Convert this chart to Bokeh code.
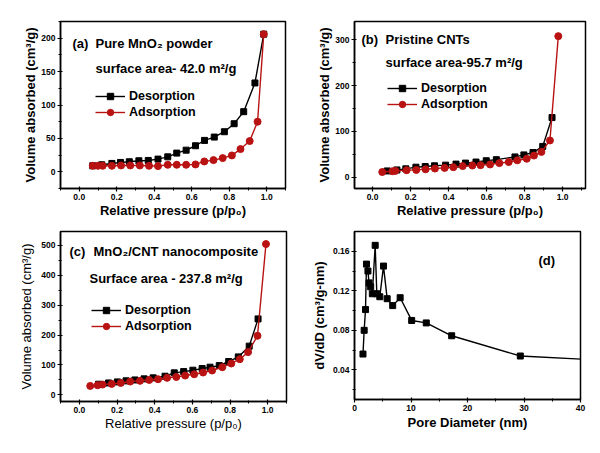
from bokeh.plotting import figure
from bokeh.layouts import gridplot
from bokeh.models import FixedTicker, PrintfTickFormatter, Label, Legend, LegendItem, Range1d
from bokeh.embed import file_html
from bokeh.resources import INLINE

FONT = "Liberation Sans"
RED = "#B91212"

# ---------------- data ----------------
# (a) Pure MnO2 powder
a_des_x = [0.072, 0.12, 0.174, 0.22, 0.267, 0.318, 0.368, 0.42, 0.472, 0.52, 0.57, 0.62, 0.668, 0.72, 0.774, 0.826, 0.877, 0.937, 0.984]
a_des_y = [9, 10.5, 12.5, 14, 15, 16.5, 17, 19, 22.4, 28, 32.4, 39, 47, 52, 60, 72, 90, 133, 206]
a_ads_x = [0.072, 0.1, 0.125, 0.174, 0.223, 0.272, 0.323, 0.372, 0.42, 0.472, 0.52, 0.57, 0.62, 0.667, 0.716, 0.765, 0.814, 0.86, 0.909, 0.951, 0.984]
a_ads_y = [9, 9, 9, 9, 9.5, 9.5, 9.5, 9, 8.5, 10.5, 10.5, 10.5, 11, 15.5, 17.5, 20.5, 24.5, 34, 46, 75, 206]

# (b) Pristine CNTs
b_des_x = [0.077, 0.128, 0.175, 0.228, 0.277, 0.326, 0.384, 0.439, 0.489, 0.544, 0.598, 0.651, 0.749, 0.796, 0.844, 0.895, 0.944]
b_des_y = [13.4, 15.6, 18, 21.6, 23, 24.6, 26, 28.3, 30.5, 32.8, 35.7, 38, 44, 48.4, 53.6, 67, 130]
b_ads_x = [0.051, 0.104, 0.12, 0.179, 0.23, 0.279, 0.328, 0.379, 0.425, 0.474, 0.525, 0.568, 0.618, 0.667, 0.716, 0.761, 0.811, 0.849, 0.888, 0.933, 0.977]
b_ads_y = [11, 12.7, 13.5, 15, 15.6, 17, 18.6, 20, 21.6, 24, 25.3, 26, 27.5, 30.5, 32.8, 36.5, 40, 47, 55, 80, 308]

# (c) MnO2/CNT nanocomposite
c_des_x = [0.102, 0.155, 0.202, 0.248, 0.295, 0.344, 0.392, 0.455, 0.504, 0.554, 0.603, 0.652, 0.694, 0.743, 0.793, 0.844, 0.902, 0.949]
c_des_y = [35.7, 40, 43.5, 47, 50, 53.6, 57, 62.5, 73.7, 78, 82.6, 88, 92.6, 98, 111.6, 127, 163, 254]
c_ads_x = [0.058, 0.097, 0.123, 0.172, 0.22, 0.27, 0.322, 0.371, 0.418, 0.466, 0.515, 0.562, 0.61, 0.657, 0.705, 0.759, 0.807, 0.852, 0.896, 0.946, 0.991]
c_ads_y = [30, 32.4, 34.6, 36.8, 40, 44.6, 47, 50, 52.5, 57, 60, 64.7, 69, 74.8, 81.5, 92.6, 105, 119.4, 143, 197.5, 504]

# (d) pore size distribution
d_x = [1.5, 1.71, 1.95, 2.12, 2.38, 2.57, 2.86, 3.16, 3.66, 3.95, 4.48, 5.13, 5.78, 6.76, 8.08, 10.12, 12.7, 17.2, 29.35, 48]
d_y = [0.056, 0.080, 0.101, 0.147, 0.140, 0.128, 0.124, 0.117, 0.166, 0.117, 0.114, 0.145, 0.112, 0.105, 0.113, 0.090, 0.0875, 0.0745, 0.054, 0.0485]

p_ticks = [0.0, 0.2, 0.4, 0.6, 0.8, 1.0]
p_minor = [-0.1, 0.1, 0.3, 0.5, 0.7, 0.9, 1.1]


def make_fig(fw, fh, bl, br, bt, bb, xr, yr, xt, xm, yt, ym, xlab, ylab, xfmt, yfmt,
             lab_style="bold", xstand=3, ystand=2):
    p = figure(frame_width=fw, frame_height=fh, output_backend="svg", toolbar_location=None,
               x_range=Range1d(*xr), y_range=Range1d(*yr),
               min_border_left=bl, min_border_right=br, min_border_top=bt, min_border_bottom=bb)
    p.grid.visible = False
    p.outline_line_color = "black"
    p.outline_line_width = 1.5
    p.background_fill_color = "white"
    p.border_fill_color = "white"
    p.xaxis.ticker = FixedTicker(ticks=xt, minor_ticks=xm)
    p.yaxis.ticker = FixedTicker(ticks=yt, minor_ticks=ym)
    p.xaxis.formatter = PrintfTickFormatter(format=xfmt)
    p.yaxis.formatter = PrintfTickFormatter(format=yfmt)
    p.xaxis.axis_label = xlab
    p.yaxis.axis_label = ylab
    for ax in (p.xaxis[0], p.yaxis[0]):
        ax.axis_line_width = 1.5
        ax.axis_line_color = "black"
        ax.major_tick_line_color = "black"
        ax.minor_tick_line_color = "black"
        ax.major_tick_line_width = 1.2
        ax.minor_tick_line_width = 1
        ax.major_tick_in = 2
        ax.major_tick_out = 3
        ax.minor_tick_in = 1
        ax.minor_tick_out = 2
        ax.major_label_text_font = FONT
        ax.major_label_text_font_style = "bold"
        ax.major_label_text_font_size = "8.5px"
        ax.major_label_text_color = "black"
        ax.major_label_standoff = 2
        ax.axis_label_text_font = FONT
        ax.axis_label_text_font_style = lab_style
        ax.axis_label_text_font_size = "13px"
        ax.axis_label_text_color = "black"
    p.xaxis[0].axis_label_standoff = xstand
    p.yaxis[0].axis_label_standoff = ystand
    return p


def add_label(p, x, y, text, size="13px"):
    p.add_layout(Label(x=x, y=y, x_units="screen", y_units="screen", text=text,
                       text_font=FONT, text_font_style="bold", text_font_size=size,
                       text_color="black", text_baseline="middle", text_align="left"))


def add_series(p, dx, dy, ax_, ay_, loc):
    l1 = p.line(dx, dy, line_color="black", line_width=1.4)
    s1 = p.scatter(dx, dy, marker="square", size=6, fill_color="black", line_color="black")
    l2 = p.line(ax_, ay_, line_color=RED, line_width=1.4)
    s2 = p.scatter(ax_, ay_, marker="circle", size=7, fill_color=RED, line_color=RED)
    leg = Legend(items=[LegendItem(label="Desorption", renderers=[l1, s1]),
                        LegendItem(label="Adsorption", renderers=[l2, s2])],
                 location=loc, glyph_width=30, glyph_height=16, label_height=16,
                 spacing=0, padding=0, margin=0, label_standoff=4,
                 border_line_color=None, background_fill_alpha=0,
                 label_text_font=FONT, label_text_font_style="bold",
                 label_text_font_size="12.5px", label_text_color="black")
    p.add_layout(leg)


XLAB = "Relative pressure (p/p\u2080)"
YLAB = "Volume absorbed (cm\u00b3/g)"

# frame sizes and borders (left, right, top, bottom) chosen so that each
# figure is 300 px wide and the rows are 226 / 227 px tall
pa = make_fig(225, 167, 60, 15, 21, 38, (-0.1, 1.1), (-25, 225), p_ticks, p_minor,
              [0, 50, 100, 150, 200], [-25, 25, 75, 125, 175, 225], XLAB, YLAB, "%.1f", "%d",
              xstand=0, ystand=0)
add_series(pa, a_des_x, a_des_y, a_ads_x, a_ads_y, (35, 68))
add_label(pa, 12, 145, "(a)")
add_label(pa, 35, 145, "Pure MnO\u2082 powder")
add_label(pa, 35, 120, "surface area- 42.0 m\u00b2/g")

pb = make_fig(231, 167, 54, 15, 21, 38, (-0.095, 1.12), (-25, 340), p_ticks, p_minor,
              [0, 100, 200, 300], [50, 150, 250], XLAB, YLAB, "%.1f", "%d", xstand=0, ystand=0)
add_series(pb, b_des_x, b_des_y, b_ads_x, b_ads_y, (33, 76))
add_label(pb, 7, 149, "(b)")
add_label(pb, 31, 149, "Pristine CNTs")
add_label(pb, 31, 126, "surface area-95.7 m\u00b2/g")

pc = make_fig(226, 170, 59, 15, 3, 54, (-0.1, 1.1), (-22, 546), p_ticks, p_minor,
              [0, 100, 200, 300, 400, 500], [50, 150, 250, 350, 450], XLAB, YLAB, "%.1f", "%d",
              lab_style="normal", xstand=0, ystand=4)
add_series(pc, c_des_x, c_des_y, c_ads_x, c_ads_y, (31, 67))
add_label(pc, 9, 150, "(c)")
add_label(pc, 33, 150, "MnO\u2082/CNT nanocomposite")
add_label(pc, 29, 123, "Surface area - 237.8 m\u00b2/g")

pd_ = make_fig(226, 168, 53, 21, 5, 54, (0, 40), (0.01, 0.18), [0, 10, 20, 30, 40], [5, 15, 25, 35],
               [0.04, 0.08, 0.12, 0.16], [0.02, 0.06, 0.10, 0.14], "Pore Diameter (nm)",
               "dV/dD (cm\u00b3/g-nm)", "%d", "%.2f", xstand=1, ystand=3)
pd_.line(d_x, d_y, line_color="black", line_width=1.4)
pd_.scatter(d_x, d_y, marker="square", size=6, fill_color="black", line_color="black")
add_label(pd_, 184, 139, "(d)")

grid = gridplot([[pa, pb], [pc, pd_]], toolbar_location=None)

open("out.html", "w").write(file_html(grid, INLINE))
